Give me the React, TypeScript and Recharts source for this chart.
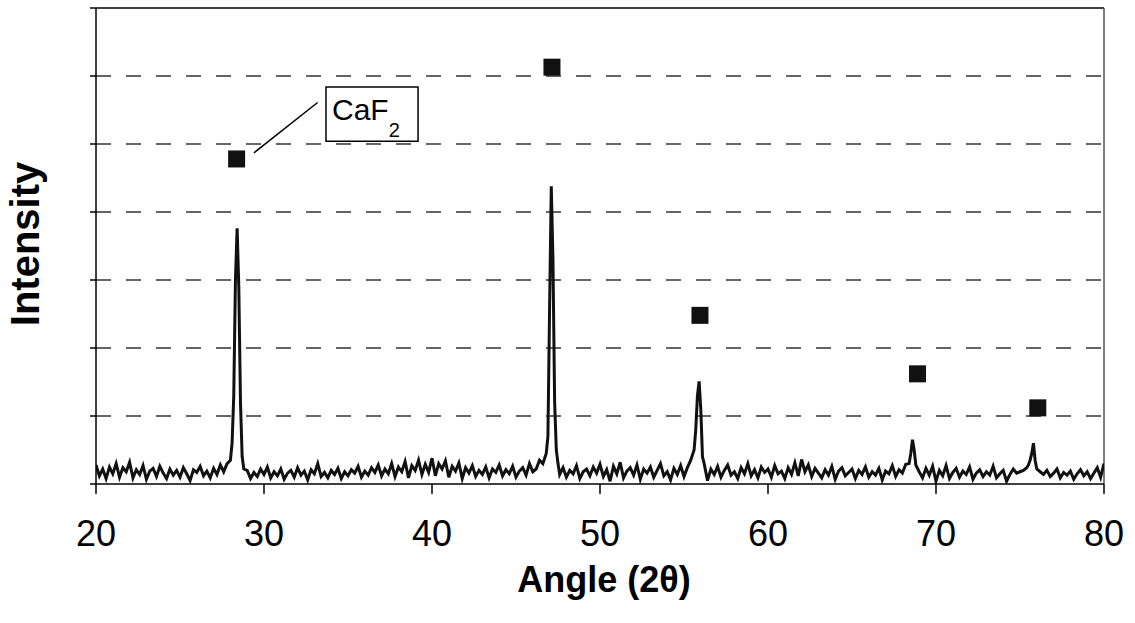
import React from 'react';
import {
  ComposedChart,
  Line,
  Scatter,
  XAxis,
  YAxis,
  ReferenceLine,
  ReferenceArea,
} from 'recharts';

// ---- Data (intensity in arbitrary units; one grid step = 100) ----
const ANGLE_START = 20;
const ANGLE_STEP = 0.2;

// background noise, sampled every 0.2 degrees
const noise20s = [
  28, 12, 22, 8, 25, 15, 30, 10, 24, 18, 32, 9, 21, 14, 27, 7, 19, 23, 11, 26,
  16, 8, 22, 13, 20, 10, 24, 15, 5, 21, 17, 26, 12, 19, 9, 23, 14, 28, 18, 30,
  20, 20, 20, 20, 20, 20, 8, 17, 11, 22,
];
const noise30s = [
  14, 25, 9, 18, 12, 22, 7, 16, 20, 10, 24, 13, 19, 6, 21, 15, 30, 11, 17, 9,
  20, 14, 23, 8, 18, 12, 21, 16, 26, 10, 19, 13, 24, 17, 28, 12, 22, 15, 30, 11,
  25, 18, 33, 9, 27, 20, 35, 14, 29, 17,
];
const noise40s = [
  38, 12, 30, 22, 34, 10, 26, 19, 31, 8, 24, 16, 27, 11, 20, 14, 25, 9, 22, 17,
  28, 12, 21, 15, 26, 10, 19, 24, 13, 30, 18, 22, 35, 20, 20, 20, 20, 20, 14, 24,
  10, 20, 15, 27, 8, 18, 22, 12, 25, 16,
];
const noise50s = [
  29, 11, 21, 4, 26, 15, 32, 9, 19, 24, 13, 28, 7, 22, 16, 25, 10, 20, 30, 12,
  18, 6, 23, 14, 27, 11, 24, 20, 20, 20, 20, 20, 5, 22, 14, 26, 10, 20, 28, 13,
  18, 8, 24, 15, 30, 12, 21, 9, 25, 17,
];
const noise60s = [
  22, 10, 27, 15, 19, 8, 24, 14, 31, 12, 36, 18, 28, 11, 23, 16, 9, 21, 13, 26,
  7, 19, 24, 12, 17, 22, 8, 20, 14, 25, 10, 18, 13, 23, 6, 19, 15, 27, 11, 21,
  16, 29, 20, 20, 20, 18, 9, 23, 13, 26,
];
const noise70s = [
  4, 20, 12, 27, 8, 17, 23, 10, 19, 14, 25, 7, 16, 21, 11, 18, 13, 26, 9, 15,
  20, 4, 14, 22, 16, 18, 20, 24, 20, 20, 20, 18, 14, 20, 11, 16, 22, 9, 17, 13,
  19, 7, 15, 21, 12, 18, 8, 16, 24, 10, 30,
];

// diffraction peaks (angle, intensity)
const peak1Angles = [28.0, 28.1, 28.2, 28.3, 28.4, 28.5, 28.6, 28.7, 28.8];
const peak1Values = [35, 60, 130, 300, 376, 290, 120, 40, 22];
const peak2Angles = [46.6, 46.8, 46.9, 47.0, 47.1, 47.2, 47.3, 47.4, 47.5];
const peak2Values = [30, 45, 70, 260, 438, 330, 120, 50, 30];
const peak3Angles = [55.4, 55.6, 55.7, 55.8, 55.9, 56.0, 56.1, 56.2];
const peak3Values = [35, 50, 80, 130, 151, 110, 40, 30];
const peak4Angles = [68.4, 68.5, 68.6, 68.7, 68.8];
const peak4Values = [30, 45, 65, 50, 28];
const peak5Angles = [75.5, 75.6, 75.7, 75.8, 75.9, 76.0];
const peak5Values = [28, 35, 45, 60, 35, 22];

// CaF2 reference markers
const markerAngles = [28.37, 47.14, 55.95, 68.9, 76.06];
const markerValues = [478, 613, 248, 162, 112];

const xTicks = [20, 30, 40, 50, 60, 70, 80];
const yTicks = [0, 100, 200, 300, 400, 500, 600, 700];
const gridValues = [100, 200, 300, 400, 500, 600];

// ---- Build series ----
const noiseAll = [...noise20s, ...noise30s, ...noise40s, ...noise50s, ...noise60s, ...noise70s];
const baseline = noiseAll.map((v, i) => ({
  angle: Math.round((ANGLE_START + i * ANGLE_STEP) * 10) / 10,
  intensity: v,
}));
const peakSets = [
  [peak1Angles, peak1Values],
  [peak2Angles, peak2Values],
  [peak3Angles, peak3Values],
  [peak4Angles, peak4Values],
  [peak5Angles, peak5Values],
];
const peakPoints = peakSets.flatMap(([a, v]) => a.map((ang, i) => ({ angle: ang, intensity: v[i] })));
const windows = peakSets.map(([a]) => [a[0], a[a.length - 1]]);
const lineData = [
  ...baseline.filter((p) => !windows.some(([lo, hi]) => p.angle >= lo - 1e-6 && p.angle <= hi + 1e-6)),
  ...peakPoints,
].sort((a, b) => a.angle - b.angle);

const markerData = markerAngles.map((a, i) => ({ angle: a, marker: markerValues[i] }));

const FONT = '"Liberation Sans", Arial, Helvetica, sans-serif';

const SquareShape = (props: any) => {
  const { cx, cy } = props;
  if (cx == null || cy == null) return null;
  const s = 17;
  return <rect x={cx - s / 2} y={cy - s / 2} width={s} height={s} fill="#111" />;
};

const CaFLabel = (props: any) => {
  const vb = props.viewBox || {};
  return (
    <text x={vb.x + 6} y={vb.y + 33} fontSize={30} fontFamily={FONT} fill="#000">
      CaF
      <tspan fontSize={20} dy={17}>
        2
      </tspan>
    </text>
  );
};

const XTitle = (props: any) => {
  const vb = props.viewBox || {};
  return (
    <text
      x={vb.x + vb.width / 2 + 4}
      y={vb.y + 108}
      textAnchor="middle"
      fontSize={36}
      fontWeight="bold"
      fontFamily={FONT}
      fill="#000"
    >
      Angle (2θ)
    </text>
  );
};

const YTitle = (props: any) => {
  const vb = props.viewBox || {};
  const x = vb.x - 27;
  const y = vb.y + 236;
  return (
    <text
      x={x}
      y={y}
      transform={`rotate(-90 ${x} ${y})`}
      textAnchor="middle"
      fontSize={40}
      fontWeight="bold"
      fontFamily={FONT}
      fill="#000"
    >
      Intensity
    </text>
  );
};

const NoTick = () => <g />;

export default function App() {
  return (
    <div style={{ position: 'absolute', left: 0, top: 0, width: 1135, height: 623, background: '#fff' }}>
      <ComposedChart
        width={1135}
        height={623}
        data={lineData}
        margin={{ top: 8, right: 31, left: 66, bottom: 79 }}
      >
        {gridValues.map((g) => (
          <ReferenceLine key={g} y={g} stroke="#333" strokeWidth={1.4} strokeDasharray="15 15" />
        ))}
        <XAxis
          type="number"
          dataKey="angle"
          domain={[20, 80]}
          ticks={xTicks}
          allowDataOverflow
          height={60}
          tickSize={10}
          tickMargin={26}
          stroke="#000"
          axisLine={{ stroke: '#000', strokeWidth: 1.5 }}
          tickLine={{ stroke: '#000', strokeWidth: 1.5 }}
          tick={{ fill: '#000', fontSize: 36, fontFamily: FONT }}
          label={<XTitle />}
        />
        <YAxis
          type="number"
          domain={[0, 700]}
          ticks={yTicks}
          allowDataOverflow
          width={30}
          tick={<NoTick />}
          tickSize={6}
          axisLine={{ stroke: '#000', strokeWidth: 1.5 }}
          tickLine={{ stroke: '#000', strokeWidth: 1.5 }}
          label={<YTitle />}
        />
        <ReferenceLine y={700} stroke="#000" strokeWidth={1.5} />
        <ReferenceLine x={80} stroke="#555" strokeWidth={1.5} />
        <Line
          type="linear"
          dataKey="intensity"
          stroke="#111"
          strokeWidth={3}
          dot={false}
          isAnimationActive={false}
        />
        <Scatter
          data={markerData}
          dataKey="marker"
          shape={<SquareShape />}
          isAnimationActive={false}
        />
        <ReferenceLine
          segment={[
            { x: 29.4, y: 487 },
            { x: 33.19, y: 561 },
          ]}
          stroke="#000"
          strokeWidth={1.5}
        />
        <ReferenceArea
          x1={33.69}
          x2={39.17}
          y1={504}
          y2={584}
          fill="#fff"
          fillOpacity={1}
          stroke="#000"
          strokeWidth={1.5}
          label={<CaFLabel />}
        />
      </ComposedChart>
    </div>
  );
}
